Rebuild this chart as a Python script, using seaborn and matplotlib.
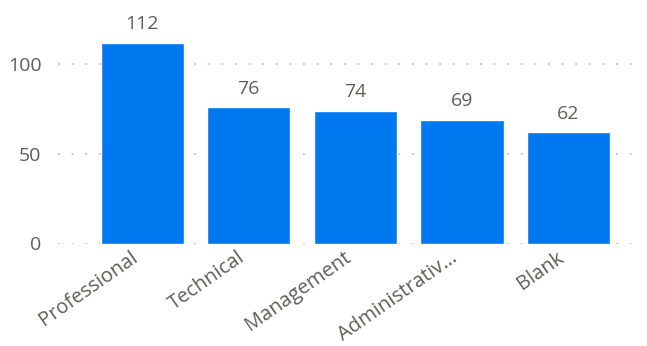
import matplotlib
matplotlib.use("Agg")
import matplotlib.pyplot as plt
import matplotlib.transforms as mtransforms
import seaborn as sns
import pandas as pd

categories = ["Professional", "Technical", "Management", "Administrativ…", "Blank"]
counts = [112, 76, 74, 69, 62]
y_ticks = [0, 50, 100]

df = pd.DataFrame({"category": categories, "count": counts})

sns.set_style("white")
plt.rcParams["font.family"] = ["Open Sans", "DejaVu Sans"]

fig = plt.figure(figsize=(6.47, 3.46), dpi=100)
ax = fig.add_axes([58 / 647, 102.5 / 346, 582 / 647, 233 / 346])

sns.barplot(data=df, x="category", y="count", color="#0078EF", saturation=1,
            width=0.78, ax=ax, zorder=3)

ax.set_xlim(-0.79, 4.67)
ax.set_ylim(0, 130)
ax.set_yticks(y_ticks)
ax.yaxis.grid(True, linestyle=(0, (1, 6)), color="#C8C8C8", linewidth=1.4, zorder=0)
ax.xaxis.grid(False)
for s in ax.spines.values():
    s.set_visible(False)
ax.set_xlabel("")
ax.set_ylabel("")
ax.tick_params(axis="both", length=0, colors="#605E5C", labelsize=14)
ax.tick_params(axis="x", labelsize=14.5, pad=3)
ax.tick_params(axis="y", pad=12)
shift = mtransforms.ScaledTranslation(-12 / 100, 0, fig.dpi_scale_trans)
for lbl in ax.get_xticklabels():
    lbl.set_rotation(35)
    lbl.set_ha("right")
    lbl.set_rotation_mode("anchor")
    lbl.set_transform(lbl.get_transform() + shift)

for i, v in enumerate(counts):
    ax.annotate(f"{v}", (i, v), xytext=(0, 7), textcoords="offset points",
                ha="center", va="bottom", fontsize=14, color="#605E5C")

fig.savefig("out.png", dpi=100)
